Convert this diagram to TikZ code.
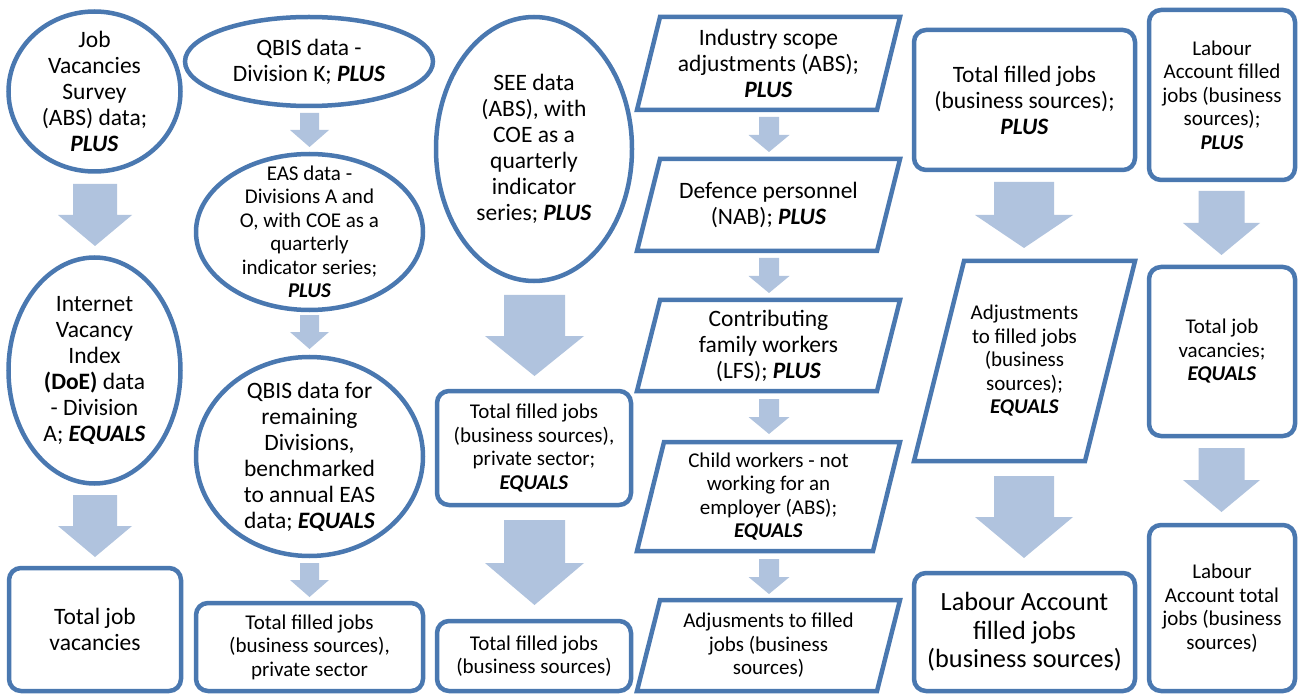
\documentclass[tikz,border=0pt]{standalone}
\usepackage{fontspec}
\setmainfont{Carlito}
\usetikzlibrary{shapes.geometric}
\definecolor{edgeblue}{RGB}{74,120,176}
\definecolor{arrowfill}{RGB}{176,195,222}
\newcommand\bfit[1]{\textbf{\textit{#1}}}
\newcommand\fL{\fontsize{23.5}{26}\selectfont}
\newcommand\fS{\fontsize{21}{23.5}\selectfont}
\newcommand\fXL{\fontsize{26.3}{28.5}\selectfont}
% cx, top, headstart, bottom, shaft half width, head half width
\newcommand\blockarrow[6]{%
  \fill[arrowfill] ({#1-#5},#2) -- ({#1+#5},#2) -- ({#1+#5},#3) -- ({#1+#6},#3)
    -- (#1,#4) -- ({#1-#6},#3) -- ({#1-#5},#3) -- cycle;}
% node name, slant (pt): draws a parallelogram on a rectangle node
\newcommand\paraedge[2]{%
  \draw[paraline] ([xshift=#2pt]#1.north west) -- (#1.north east)
    -- ([xshift=-#2pt]#1.south east) -- (#1.south west) -- cycle;}
\begin{document}
\begin{tikzpicture}[x=1pt,y=-1pt,
  oval/.style={ellipse, draw=edgeblue, line width=4.5pt, inner sep=0pt, outer sep=0pt},
  box/.style={rectangle, rounded corners=12pt, draw=edgeblue, line width=4.5pt, inner sep=0pt},
  parabox/.style={rectangle, inner sep=0pt, outer sep=0pt},
  paraline/.style={draw=edgeblue, line width=4.5pt, line join=miter},
  txt/.style={align=center, inner sep=0pt, text=black}]
\useasboundingbox[fill=white] (0,0) rectangle (1302,695);

% ---- column 1
\node[oval, minimum width=172pt, minimum height=160pt] (e1) at (94.5,91.5) {};
\node[txt, font=\fL] (e1t) at (e1) {Job\\Vacancies\\Survey\\(ABS) data;\\\bfit{PLUS}};
\node[oval, minimum width=172pt, minimum height=226pt] (e2) at (94.5,370.5) {};
\node[txt, font=\fL] (e2t) at (e2) {Internet\\Vacancy\\Index\\\textbf{(DoE)} data\\- Division\\A; \bfit{EQUALS}};
\node[box, minimum width=172pt, minimum height=123pt] (r1) at (95,629.5) {};
\node[txt, font=\fL] (r1t) at (r1) {Total job\\vacancies};

% ---- column 2
\node[oval, minimum width=248pt, minimum height=89pt] (e3) at (309,61.5) {};
\node[txt, font=\fL] (e3t) at (e3) {QBIS data -\\Division K; \bfit{PLUS}};
\node[oval, minimum width=227pt, minimum height=156pt] (e4) at (309.5,232) {};
\node[txt, font=\fS] (e4t) at (e4) {EAS data -\\Divisions A and\\O, with COE as a\\quarterly\\indicator series;\\\bfit{PLUS}};
\node[oval, minimum width=227pt, minimum height=199pt] (e5) at (309.5,456.5) {};
\node[txt, font=\fL] (e5t) at (e5) {QBIS data for\\remaining\\Divisions,\\benchmarked\\to annual EAS\\data; \bfit{EQUALS}};
\node[box, minimum width=227pt, minimum height=88pt] (r2) at (309.5,647) {};
\node[txt, font=\fS] (r2t) at (r2) {Total filled jobs\\(business sources),\\private sector};

% ---- column 3
\node[oval, minimum width=196pt, minimum height=264pt] (e6) at (534,149) {};
\node[txt, font=\fL] (e6t) at (e6) {SEE data\\(ABS), with\\COE as a\\quarterly\\indicator\\series; \bfit{PLUS}};
\node[box, minimum width=194pt, minimum height=114pt] (r3) at (534,448) {};
\node[txt, font=\fS] (r3t) at (r3) {Total filled jobs\\(business sources),\\private sector;\\\bfit{EQUALS}};
\node[box, minimum width=194pt, minimum height=70pt] (r4) at (534,656) {};
\node[txt, font=\fS] (r4t) at (r4) {Total filled jobs\\(business sources)};

% ---- column 4
\node[parabox, minimum width=263pt, minimum height=93pt] (p1) at (768.5,63.5) {};
\paraedge{p1}{23}
\node[txt, font=\fL] (p1t) at (p1) {Industry scope\\adjustments (ABS);\\\bfit{PLUS}};
\node[parabox, minimum width=263pt, minimum height=92pt] (p2) at (768.5,205) {};
\paraedge{p2}{23}
\node[txt, font=\fL] (p2t) at (p2) {Defence personnel\\(NAB); \bfit{PLUS}};
\node[parabox, minimum width=263pt, minimum height=91pt] (p3) at (768.5,345.5) {};
\paraedge{p3}{23}
\node[txt, font=\fL] (p3t) at (p3) {Contributing\\family workers\\(LFS); \bfit{PLUS}};
\node[parabox, minimum width=263pt, minimum height=109pt] (p4) at (768.5,496.5) {};
\paraedge{p4}{27}
\node[txt, font=\fS] (p4t) at (p4) {Child workers - not\\working for an\\employer (ABS);\\\bfit{EQUALS}};
\node[parabox, minimum width=263pt, minimum height=91pt] (p5) at (768.5,645.5) {};
\paraedge{p5}{23}
\node[txt, font=\fS] (p5t) at (p5) {Adjusments to filled\\jobs (business\\sources)};

% ---- column 5
\node[box, minimum width=221pt, minimum height=140pt] (r5) at (1024.5,100) {};
\node[txt, font=\fL] (r5t) at (r5) {Total filled jobs\\(business sources);\\\bfit{PLUS}};
\node[parabox, minimum width=221pt, minimum height=200pt] (p6) at (1024.5,361) {};
\paraedge{p6}{50}
\node[txt, font=\fS] (p6t) at (p6) {Adjustments\\to filled jobs\\(business\\sources);\\\bfit{EQUALS}};
\node[box, minimum width=221pt, minimum height=118pt] (r6) at (1024.5,632) {};
\node[txt, font=\fXL] (r6t) at (r6) {Labour Account\\filled jobs\\(business sources)};

% ---- column 6
\node[box, minimum width=146pt, minimum height=170pt] (r7) at (1222,95) {};
\node[txt, font=\fS] (r7t) at (r7) {Labour\\Account filled\\jobs (business\\sources);\\\bfit{PLUS}};
\node[box, minimum width=146pt, minimum height=169pt] (r8) at (1222,351.5) {};
\node[txt, font=\fS] (r8t) at (r8) {Total job\\vacancies;\\\bfit{EQUALS}};
\node[box, minimum width=146pt, minimum height=166pt] (r9) at (1222,608) {};
\node[txt, font=\fS] (r9t) at (r9) {Labour\\Account total\\jobs (business\\sources)};

% ---- block arrows
\blockarrow{95}{184}{215}{246}{22}{37}
\blockarrow{95}{495}{526}{557}{22}{37}
\blockarrow{309.5}{113}{130}{147}{9.5}{19.5}
\blockarrow{309.5}{315}{332}{349}{9.5}{19.5}
\blockarrow{309.5}{563}{580}{597}{9.5}{19.5}
\blockarrow{534.5}{295}{336}{376}{30.5}{49.5}
\blockarrow{534.5}{520}{563}{605}{30.5}{49.5}
\blockarrow{769}{117}{135}{152}{10}{20.5}
\blockarrow{769}{258}{276}{293}{10}{20.5}
\blockarrow{769}{399}{417}{434}{10}{20.5}
\blockarrow{769}{559}{577}{594}{10}{20.5}
\blockarrow{1024}{182}{215}{248}{30}{49}
\blockarrow{1024}{476}{517}{558}{30}{49}
\blockarrow{1221.5}{191}{223}{255}{23}{38.5}
\blockarrow{1221.5}{448}{480}{512}{23}{38.5}
\end{tikzpicture}
\end{document}
